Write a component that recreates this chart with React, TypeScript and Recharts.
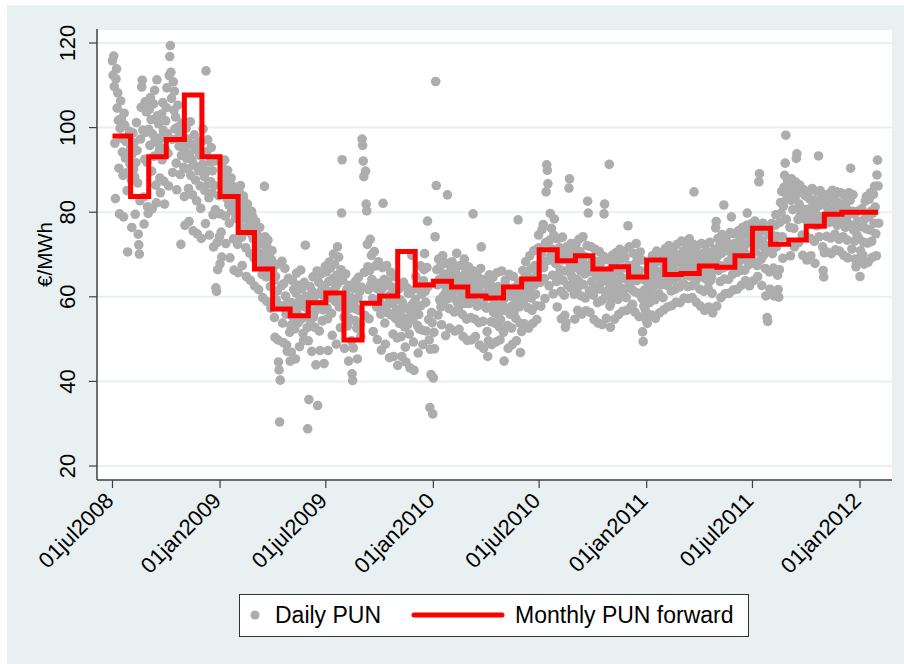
import React from 'react';
import { ComposedChart, Scatter, Line, XAxis, YAxis, CartesianGrid, Label } from 'recharts';

// ---------- data ----------
// Daily PUN (€/MWh), one inner array per month
const pun2008 = [
  [115.8,112.4,116.9,109.7,96.3,83.2,111.5,113.9,104.6,108.2,101.7,90.4,79.6,99.8,106.3,102.1,97.5,94.2,88.7,78.9,103.4,100.6,92.8,96.7,89.3,85.1,70.6,97.9,93.6,99.1,91.4],
  [95.2,87.6,76.4,93.8,98.7,90.1,96.4,88.3,79.5,91.7,101.2,94.6,86.9,74.8,72.3,70.1,82.7,97.3,104.8,109.6,111.2,99.4,83.6,77.2,92.5,106.1,98.9,103.7,91.8,81.3,79.7],
  [99.6,104.3,95.8,107.1,101.9,89.7,80.8,98.4,105.6,93.2,108.8,97.1,86.4,82.2,111.3,102.8,96.2,100.9,94.5,88.1,84.6,97.6,103.2,92.4,105.9,99.3,87.3,81.9,95.1,101.6],
  [104.7,109.4,98.6,93.9,86.2,112.3,116.8,119.4,113.1,106.9,97.2,89.4,110.8,104.1,108.6,99.7,102.5,91.6,85.3,97.4,105.3,100.2,95.6,98.1,88.9,72.4,93.4,101.1,96.3,94.8,90.6],
  [83.7,76.9,95.4,99.8,92.7,97.3,90.2,85.6,77.8,93.6,101.4,88.7,96.1,92.3,84.1,75.6,91.2,98.3,94.9,87.6,95.8,82.7,74.9,90.4,96.6,89.8,93.5,86.2,80.9,73.8],
  [96.8,91.3,99.7,93.6,88.4,85.1,77.3,113.4,94.2,89.7,97.1,86.8,83.4,74.6,91.9,87.2,95.3,84.6,89.8,79.4,71.8,86.3,92.1,80.6,62.1,61.3,72.8,66.4,79.7,83.9,74.2],
];
const pun2009 = [
  [67.8,79.6,75.3,69.4,86.7,90.4,84.9,88.6,92.3,79.1,72.6,87.4,83.2,89.9,85.6,81.7,77.4,69.2,84.8,88.1,80.3,86.2,82.9,73.7,66.3,81.8,85.4,78.6,83.7,79.2,72.4],
  [65.7,81.2,84.6,77.9,86.3,79.8,74.1,67.4,80.6,83.8,76.2,82.4,78.7,71.6,64.8,78.3,81.9,75.4,79.6,77.1,70.3,63.9,76.8,80.2,74.6,78.9,73.7,69.2],
  [62.6,75.3,77.8,72.1,74.9,70.6,68.4,61.7,73.9,76.4,70.2,72.8,67.6,65.3,59.8,72.4,69.7,86.1,74.2,68.3,64.7,58.9,71.6,73.4,67.2,69.8,66.1,62.4,57.3,68.8,70.9],
  [66.2,58.7,63.9,55.1,50.4,64.8,59.3,67.6,61.4,49.8,44.6,42.7,30.4,40.3,57.9,62.6,68.4,53.8,49.2,63.1,57.4,66.7,60.2,55.9,48.6,47.1,58.8,64.4,56.3,51.6],
  [44.8,53.2,46.9,58.6,63.8,55.1,61.7,57.2,52.4,45.3,60.9,65.6,56.1,62.7,53.9,57.8,48.2,59.4,66.3,54.7,61.9,58.6,51.3,49.7,63.4,57.6,72.2,60.1,55.2,52.7,28.8],
  [49.6,35.7,56.9,62.4,53.6,58.8,47.1,61.3,64.7,55.2,59.9,52.8,56.6,43.9,60.7,66.1,34.3,57.5,63.4,51.9,47.3,58.2,65.4,61.6,54.3,60.4,56.9,44.2,62.6,67.2],
  [60.3,65.9,57.4,54.8,47.3,63.6,68.2,59.7,66.8,61.2,56.1,50.9,64.3,70.1,60.8,67.7,58.9,62.4,48.8,65.1,71.8,63.3,69.4,57.6,59.2,52.7,66.4,79.8,92.4,63.9,58.3],
  [55.2,47.8,60.3,65.4,56.9,61.8,53.1,58.6,44.8,54.9,62.7,57.3,59.8,49.6,41.8,40.2,47.9,58.2,61.9,54.4,63.7,57.1,52.6,45.3,59.7,64.6,56.8,61.2,53.4,50.7,62.3],
  [97.3,95.8,92.1,88.4,65.8,55.6,89.7,81.9,80.3,72.4,67.1,61.7,54.8,66.2,73.6,62.9,69.8,64.1,59.6,51.8,63.4,70.7,58.9,67.3,62.2,57.6,49.9,61.8,68.3,59.4],
  [63.2,58.6,55.9,47.4,61.8,66.9,82.1,57.3,64.1,53.8,48.8,62.7,67.4,58.1,63.6,56.2,59.8,45.6,60.4,65.8,55.7,62.3,58.4,51.2,45.9,59.6,64.8,54.9,61.7,57.1,50.3],
  [43.8,56.4,61.9,53.7,59.3,55.8,50.6,45.9,58.7,54.2,63.4,57.6,52.9,48.1,44.6,57.3,62.1,53.4,60.8,55.1,51.2,43.2,56.7,61.4,69.8,58.2,54.6,49.3,42.6,57.8],
  [59.4,64.8,56.7,61.9,53.2,46.7,55.8,52.4,62.6,67.3,57.9,60.6,52.1,48.7,63.8,66.4,70.2,61.3,58.7,51.9,66.9,77.9,62.4,54.6,49.8,33.8,47.6,41.6,56.3,53.9,32.3],
];
const pun2010 = [
  [40.8,51.6,47.7,74.2,110.9,86.3,66.4,62.8,55.7,68.9,64.1,59.3,67.2,57.6,53.4,63.8,69.7,60.2,65.4,58.9,62.7,50.8,61.3,67.9,84.1,59.6,64.8,57.2,52.6,61.9,66.3],
  [64.9,68.3,59.8,66.7,61.2,56.4,51.9,65.8,62.1,70.3,58.7,63.9,57.2,52.3,61.6,67.4,59.2,64.7,60.3,55.8,50.6,63.3,68.9,58.4,65.6,61.1,54.7,49.7],
  [62.8,67.1,58.4,64.9,60.2,55.1,49.8,61.7,66.2,79.6,59.3,63.4,54.7,50.6,62.3,65.9,57.8,61.2,64.6,53.9,48.6,60.8,66.7,71.8,58.6,62.9,54.2,47.8,59.4,64.1,57.6],
  [60.7,57.3,51.8,45.9,49.6,61.4,65.2,57.6,62.8,54.1,48.7,59.8,64.6,56.3,61.9,58.4,53.7,49.3,60.2,65.7,55.8,62.4,57.1,52.9,49.8,54.6,61.3,66.1,58.2,56.8],
  [51.6,44.8,59.7,63.9,57.2,62.4,56.8,53.2,47.8,60.4,65.3,55.9,61.6,57.7,52.6,48.7,59.9,64.8,56.4,62.1,58.3,54.9,49.6,61.8,60.1,78.2,63.4,57.6,53.8,46.8,62.9],
  [51.8,60.7,66.2,58.9,62.4,53.6,64.7,68.3,60.1,65.8,62.3,57.4,52.6,63.9,69.7,61.2,66.6,59.7,56.8,53.7,64.3,70.9,62.8,67.4,60.6,57.9,54.6,65.2,71.4,74.6],
  [71.6,67.8,63.4,57.8,70.2,75.9,68.4,77.1,66.9,64.3,59.6,72.8,84.8,91.2,89.9,86.7,68.6,62.6,73.4,79.7,69.8,76.2,71.3,65.1,60.7,74.6,78.4,70.2,67.9,73.8,63.6],
  [57.6,69.4,73.8,65.2,71.6,66.4,61.3,54.8,68.7,74.1,63.9,70.2,60.4,55.6,52.8,53.9,66.1,71.9,62.7,69.3,85.7,87.9,67.8,62.1,72.6,64.8,70.9,63.2,66.8,60.6,54.7],
  [68.2,72.4,64.1,61.8,56.8,67.9,73.6,63.4,70.7,66.1,60.2,55.9,68.8,74.2,62.9,69.6,65.4,59.7,56.7,67.3,72.1,82.6,79.8,65.9,61.4,56.3,66.7,71.8,63.6,68.4],
  [66.8,60.4,54.6,65.7,71.2,62.3,68.4,64.9,58.6,53.8,66.2,70.7,61.8,67.9,63.4,59.1,53.4,64.8,69.6,79.6,81.9,65.2,60.3,54.9,63.7,68.8,61.6,66.2,91.3,57.8,52.8],
  [58.7,64.2,69.8,62.6,67.3,60.1,54.7,65.9,70.4,61.8,68.6,63.7,59.4,55.8,66.4,71.2,62.1,68.9,64.6,60.3,56.6,66.8,70.7,61.9,69.3,64.2,59.8,56.8,67.1,76.8],
  [67.4,71.8,63.2,65.9,57.6,66.8,61.7,58.2,70.3,64.6,61.2,56.4,67.9,72.6,63.8,69.1,65.7,60.8,55.3,66.2,70.6,64.4,68.7,59.6,51.7,49.4,57.8,61.6,63.9,56.7,54.6],
];
const pun2011 = [
  [54.8,53.7,60.4,66.9,63.2,58.6,64.3,61.1,55.7,65.8,69.7,62.4,67.9,64.2,59.3,54.9,66.2,70.8,63.1,68.4,65.6,60.7,56.2,65.1,70.4,62.8,68.6,63.9,59.8,56.9,66.7],
  [67.6,71.4,63.8,69.2,62.7,57.6,66.4,72.1,64.3,69.7,65.2,61.4,57.9,67.8,71.6,63.9,70.4,66.1,61.8,58.7,68.3,72.4,64.6,69.8,65.7,62.3,58.6,67.9],
  [69.6,73.2,65.8,70.7,63.1,59.7,68.4,72.9,65.2,71.6,66.8,62.4,59.6,69.1,73.7,64.9,70.8,67.3,62.6,59.8,68.2,72.4,84.8,66.9,70.3,63.7,58.7,67.8,72.1,65.4,69.2],
  [66.2,61.8,57.8,68.4,72.6,64.7,70.2,66.9,61.3,56.8,67.7,72.2,64.1,70.6,66.3,62.1,57.6,68.7,72.9,63.8,69.9,64.6,60.8,56.2,57.3,66.4,71.1,68.6,76.3,77.8],
  [57.8,69.6,73.8,66.2,71.9,67.4,63.6,59.8,70.3,74.7,66.8,72.4,81.7,64.2,60.7,70.9,74.1,67.2,72.8,68.3,64.1,60.8,71.4,75.2,67.6,78.9,69.7,65.3,61.6,71.2,74.9],
  [72.6,66.9,70.4,65.8,61.8,71.9,75.6,68.2,74.3,70.1,66.2,62.7,72.8,76.4,68.9,74.7,70.6,66.3,63.8,72.4,76.9,79.8,69.7,74.9,67.6,62.6,73.1,77.2,69.4,75.3],
  [73.6,68.4,63.8,74.2,77.9,70.6,76.3,72.1,67.4,64.8,74.9,87.2,89.1,76.8,73.4,68.9,62.7,73.2,77.4,69.8,75.6,71.3,66.7,60.2,72.1,55.1,54.2,70.8,74.6,65.9,61.8],
  [71.6,74.8,77.3,70.2,73.9,66.8,60.2,72.7,76.9,79.4,71.8,74.3,65.1,61.7,59.9,66.4,77.6,82.3,79.8,84.9,74.2,69.1,81.4,85.9,88.7,91.6,98.2,78.3,83.6,87.4,85.2],
  [86.3,83.1,76.4,69.7,82.8,87.9,84.2,80.6,85.7,76.2,71.8,83.4,87.1,92.7,93.8,84.6,78.3,72.8,81.9,86.4,79.2,84.8,80.3,74.6,69.8,80.7,85.3,78.4,83.9,79.6],
  [74.3,68.7,80.6,84.7,77.9,83.2,79.4,73.8,69.7,81.2,85.6,77.4,82.9,78.6,73.1,67.9,80.8,84.9,76.8,82.3,79.1,93.3,74.2,81.6,85.1,77.2,83.4,78.8,71.8,66.2,64.7],
  [70.4,78.2,82.6,79.1,74.3,70.6,80.9,84.3,77.6,82.8,78.4,73.9,70.2,80.6,85.2,77.8,83.7,79.3,74.8,71.1,81.4,84.8,76.9,82.4,78.7,73.6,70.8,80.2,84.6,78.3],
  [81.6,78.3,74.2,69.8,79.7,83.9,76.4,82.1,78.6,73.4,69.2,80.4,84.6,77.1,82.8,90.4,76.7,71.3,80.2,84.1,75.8,79.6,73.2,68.9,67.1,68.4,74.6,77.9,80.3,73.8,69.1],
];
const pun2012 = [
  [64.8,70.9,76.6,80.8,77.2,69.8,72.9,67.7,78.4,82.6,76.1,83.7,79.3,72.7,68.2,78.9,83.1,75.8,84.6,80.2,73.1,69.3,79.8,84.2,77.4,86.1,81.2,74.9,69.7,88.8,92.3],
  [86.2,77.4],
];

// Monthly PUN forward, first of each month from jul2008 to feb2012
const forwardValues = [
  98.0, 83.7, 93.1, 97.2, 107.7, 93.1,
  83.7, 75.2, 66.6, 57.1, 55.5, 58.6, 60.9, 49.8, 58.5, 60.2, 70.7, 62.8,
  63.7, 62.3, 60.2, 59.7, 62.3, 64.2, 71.1, 68.5, 69.7, 66.6, 67.1, 64.7,
  68.7, 65.3, 65.5, 67.3, 67.0, 69.7, 76.2, 72.4, 73.4, 76.7, 79.5, 80.0,
  80.0, 80.0,
];

const xTickLabels = ['01jul2008', '01jan2009', '01jul2009', '01jan2010', '01jul2010', '01jan2011', '01jul2011', '01jan2012'];
const xTickDates: [number, number][] = [[2008, 6], [2009, 0], [2009, 6], [2010, 0], [2010, 6], [2011, 0], [2011, 6], [2012, 0]];
const yTicks = [20, 40, 60, 80, 100, 120];
const seriesNames = ['Daily PUN', 'Monthly PUN forward'];

// ---------- build ----------
const DAY = 86400000;
const ORIGIN = Date.UTC(2008, 6, 1);
const dayIndex = (y: number, m: number, d: number) => (Date.UTC(y, m, d) - ORIGIN) / DAY;

const dailyPoints: { x: number; y: number }[] = [];
const addYear = (year: number, firstMonth: number, months: number[][]) => {
  months.forEach((vals, mi) => vals.forEach((v, di) => dailyPoints.push({ x: dayIndex(year, firstMonth + mi, di + 1), y: v })));
};
addYear(2008, 6, pun2008);
addYear(2009, 0, pun2009);
addYear(2010, 0, pun2010);
addYear(2011, 0, pun2011);
addYear(2012, 0, pun2012);

const forwardPoints = forwardValues.map((v, i) => ({ x: dayIndex(2008, 6 + i, 1), y: v }));
const xTicks = xTickDates.map(([y, m]) => dayIndex(y, m, 1));
const labelFor = (v: number) => xTickLabels[xTicks.indexOf(v)] ?? '';

const BG = '#e8f0f2';
const GRAY = '#adadad';
const AXIS = '#404040';
const FONT = '"Liberation Sans", Arial, sans-serif';

const XTick = (props: any) => {
  const { x, y, payload } = props;
  const tx = x + 2.5;
  return (
    <text x={tx} y={y} textAnchor="end" fontFamily={FONT} fontSize={22} fill="#000" transform={`rotate(-45, ${tx}, ${y})`}>
      {labelFor(payload.value)}
    </text>
  );
};

const YTick = (props: any) => {
  const { x, y, payload } = props;
  return (
    <text x={x} y={y} textAnchor="middle" fontFamily={FONT} fontSize={22} fill="#000" transform={`rotate(-90, ${x}, ${y})`}>
      {payload.value}
    </text>
  );
};

const YTitle = (props: any) => {
  const vb = props.viewBox || { x: 0, y: 24, width: 90, height: 451 };
  const cx = 45;
  const cy = vb.y + vb.height / 2;
  return (
    <text x={cx} y={cy} textAnchor="middle" fontFamily={FONT} fontSize={20.5} fill="#000" transform={`rotate(-90, ${cx}, ${cy})`}>
      €/MWh
    </text>
  );
};

const Dot = (props: any) => <circle cx={props.cx} cy={props.cy} r={4.8} fill={GRAY} />;

export default function App() {
  return (
    <div style={{ position: 'absolute', left: 0, top: 0, width: 904, height: 664, background: '#fff', overflow: 'hidden' }}>
      <div style={{ position: 'absolute', left: 7, top: 5, width: 897, height: 659, background: BG }}>
        <ComposedChart width={897} height={659} margin={{ top: 24, right: 12, bottom: 0, left: 0 }}>
          <CartesianGrid vertical={false} stroke={BG} strokeWidth={2} fill="#fff" />
          <XAxis
            type="number"
            dataKey="x"
            domain={[-26.5, 1333.75]}
            ticks={xTicks}
            interval={0}
            height={184}
            tickSize={8}
            tickMargin={14}
            tick={<XTick />}
            axisLine={{ stroke: AXIS, strokeWidth: 1.5 }}
            tickLine={{ stroke: AXIS, strokeWidth: 1.2 }}
            allowDataOverflow
          />
          <YAxis
            type="number"
            dataKey="y"
            domain={[16.69, 123.31]}
            ticks={yTicks}
            interval={0}
            width={90}
            tickSize={8}
            tickMargin={14}
            tick={<YTick />}
            axisLine={{ stroke: AXIS, strokeWidth: 1.5 }}
            tickLine={{ stroke: AXIS, strokeWidth: 1.2 }}
            allowDataOverflow
          >
            <Label content={<YTitle />} />
          </YAxis>
          <Scatter name={seriesNames[0]} data={dailyPoints} dataKey="y" shape={<Dot />} isAnimationActive={false} />
          <Line
            name={seriesNames[1]}
            data={forwardPoints}
            dataKey="y"
            type="stepAfter"
            stroke="#ff0000"
            strokeWidth={5}
            dot={false}
            activeDot={false}
            isAnimationActive={false}
            {...({ zIndex: 700 } as any)}
          />
        </ComposedChart>
      </div>
      <svg style={{ position: 'absolute', left: 239, top: 594 }} width={510} height={43}>
        <rect x={0.5} y={0.5} width={509} height={42} fill="#fff" stroke="#333" strokeWidth={1} />
        <circle cx={16} cy={21} r={4.5} fill={GRAY} />
        <text x={36} y={29} fontFamily={FONT} fontSize={23} fill="#000">{seriesNames[0]}</text>
        <line x1={175} y1={21} x2={263} y2={21} stroke="#ff0000" strokeWidth={5} strokeLinecap="round" />
        <text x={276} y={29} fontFamily={FONT} fontSize={23} fill="#000">{seriesNames[1]}</text>
      </svg>
    </div>
  );
}
